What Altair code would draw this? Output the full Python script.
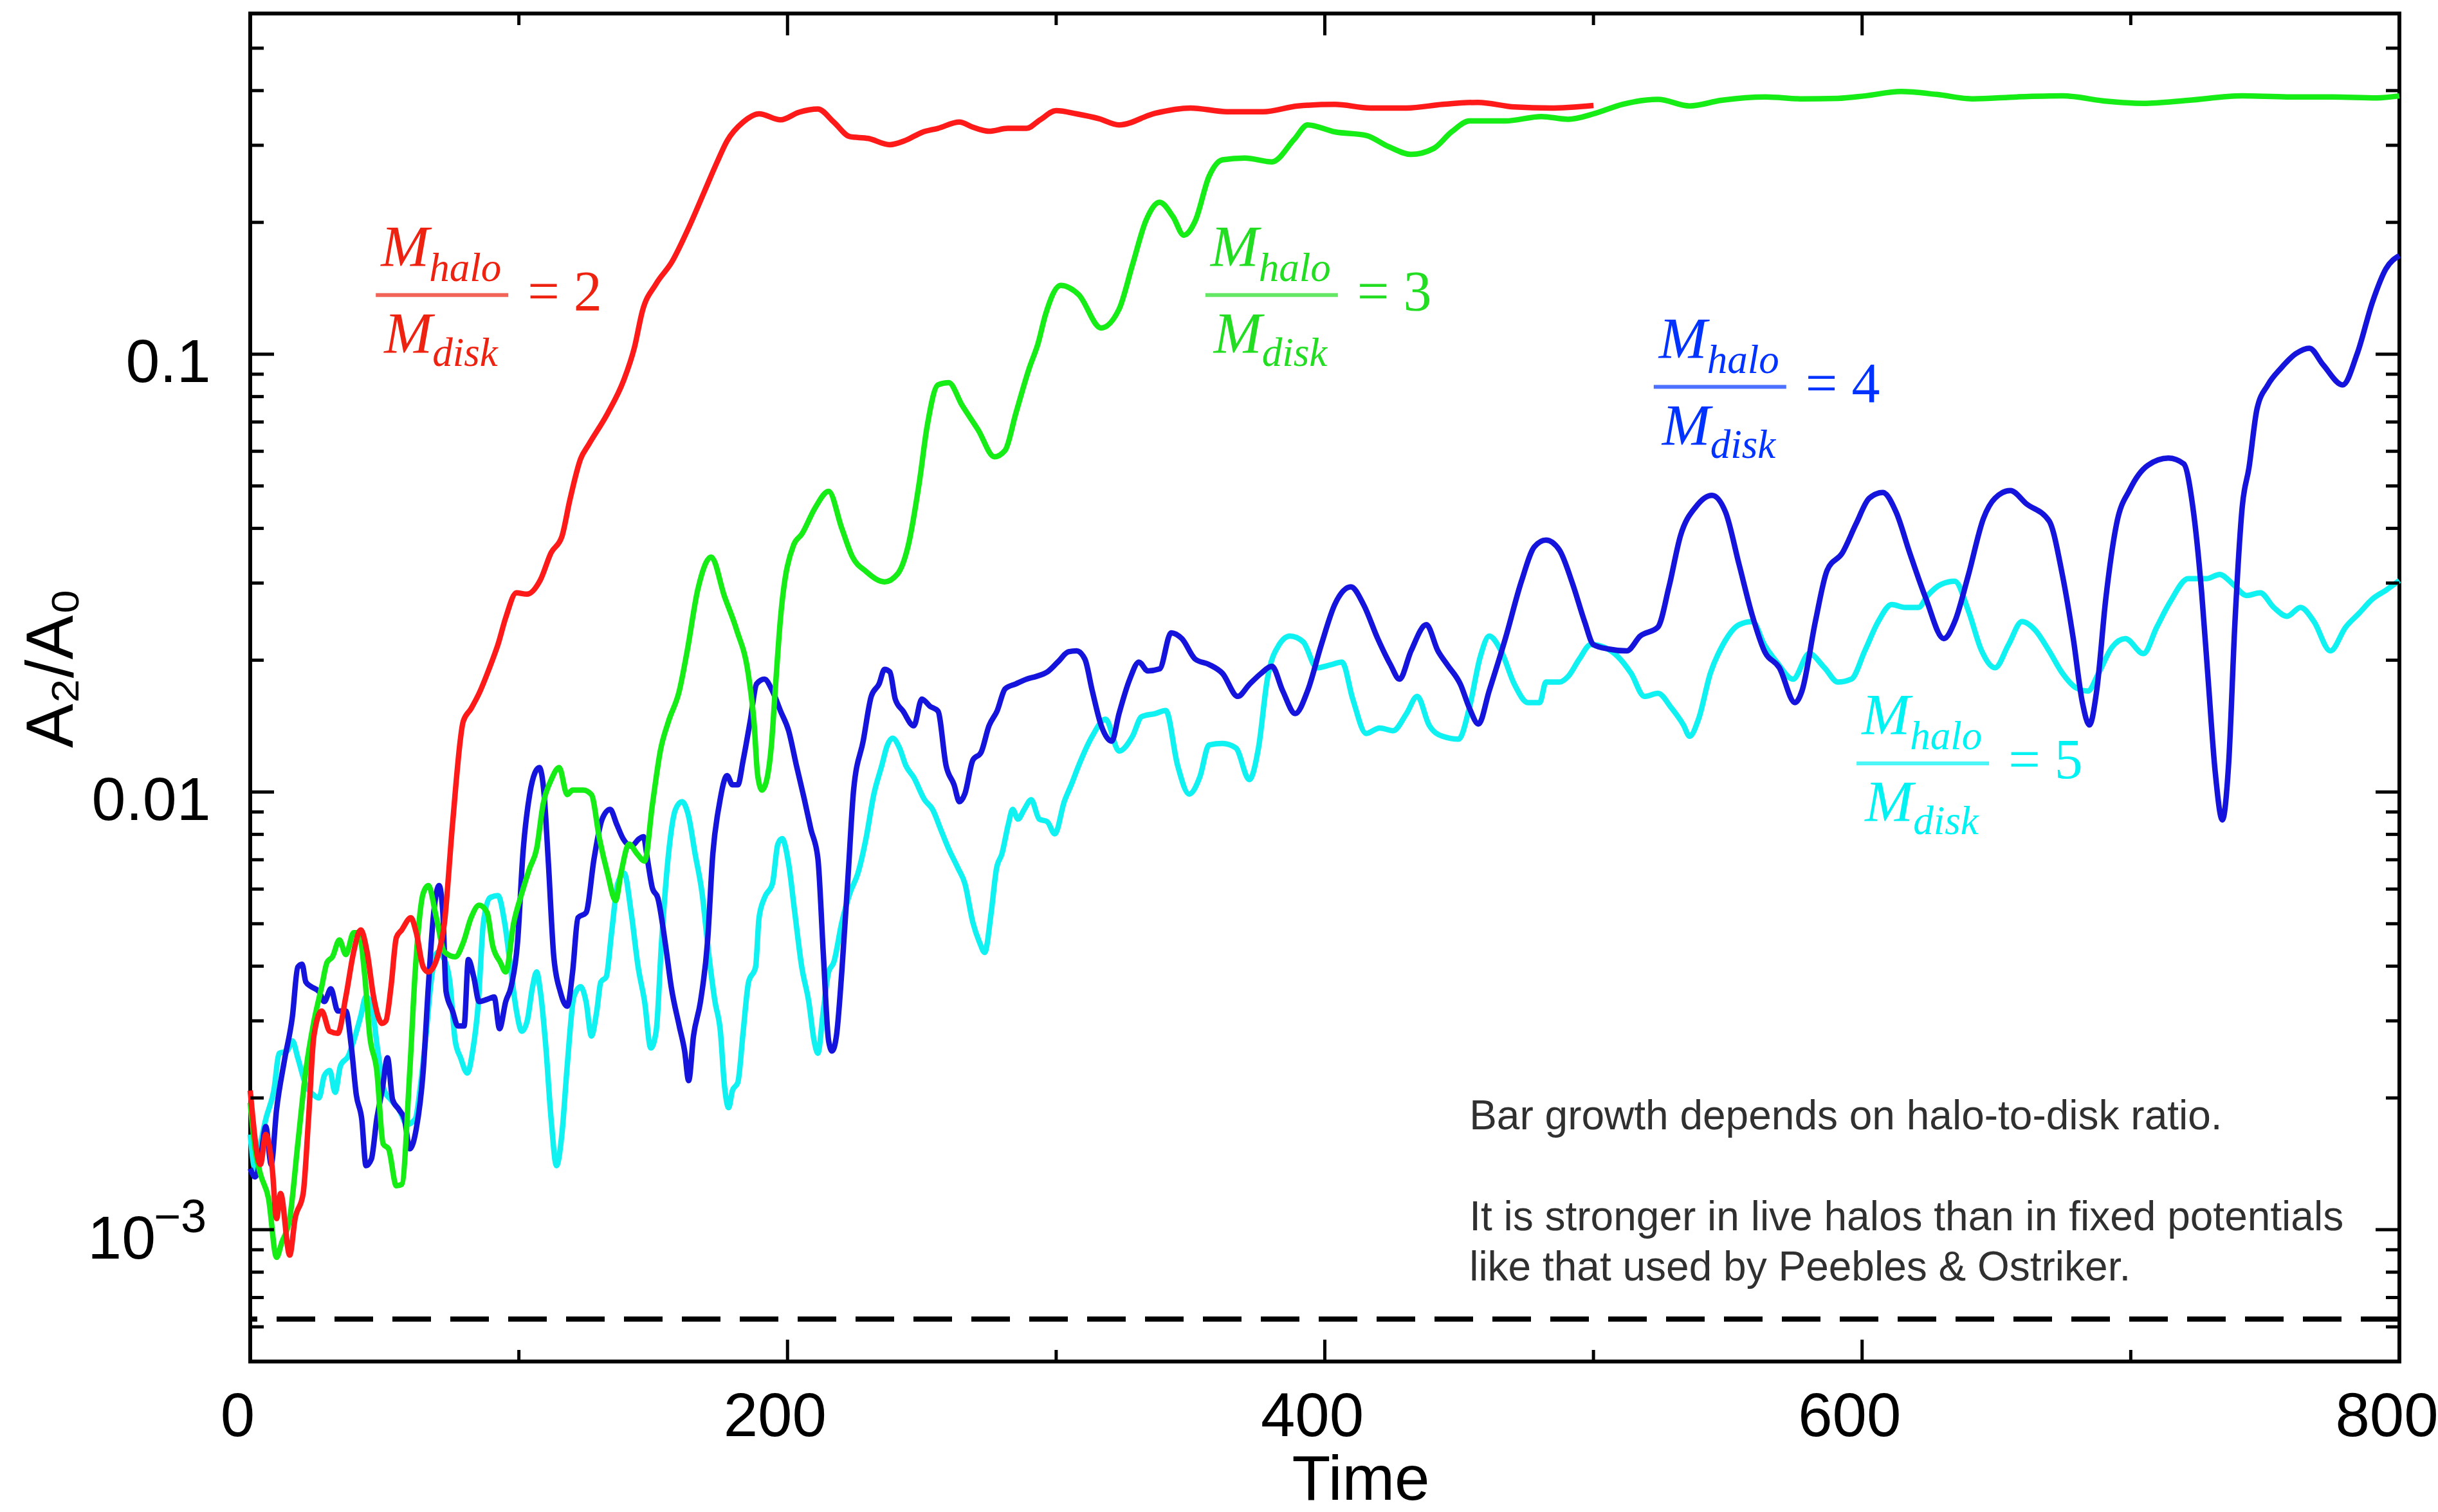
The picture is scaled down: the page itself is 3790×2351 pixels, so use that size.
import altair as alt
import pandas as pd

# ---------------------------------------------------------------
# Bar amplitude A2/A0 versus time for four halo-to-disk mass ratios
# ---------------------------------------------------------------

red_time = [0, 3.8, 5.8, 8.2, 9.8, 11.3, 14.7, 16.7, 19.7, 21.7, 23.7, 26.6, 29.6, 32.6,
            35.6, 38.5, 41.1, 43.5, 45.9, 49.1, 50.5, 52.4, 54.4, 56.4, 59.8, 61.8, 64.4,
            66.3, 69.7, 72.3, 75.3, 79.3, 82.2, 85.2, 89.6, 92.2, 95.1, 99.1, 103, 108,
            112, 116, 119, 123, 126, 133, 139, 143, 146, 151, 157, 163, 169, 173.6, 177.5,
            183.5, 189.4, 197.4, 204.3, 211.3, 217.2, 223.2, 230.1, 238, 244, 250, 256,
            264, 269, 275, 282, 289, 294, 300, 307.6, 316, 323.4, 336.8, 350, 363.6, 377,
            390, 403.7, 417, 430.4, 443.8, 457, 470.6, 484, 500]
red_amp = [0.00208, 0.00141, 0.00165, 0.00138, 0.00106, 0.00121, 0.000875, 0.00106,
           0.00121, 0.00179, 0.00277, 0.00316, 0.00284, 0.00281, 0.00341, 0.00431, 0.00484,
           0.00431, 0.00341, 0.00296, 0.00300, 0.00359, 0.00465, 0.00484, 0.00516, 0.00477,
           0.00398, 0.00388, 0.00420, 0.00503, 0.00844, 0.0145, 0.0155, 0.0168, 0.0196,
           0.0217, 0.0250, 0.0285, 0.0283, 0.0305, 0.0352, 0.0383, 0.0465, 0.0577, 0.0622,
           0.0732, 0.0871, 0.1035, 0.1256, 0.1445, 0.1626, 0.1932, 0.2348, 0.273, 0.307,
           0.339, 0.354, 0.343, 0.357, 0.363, 0.339, 0.314, 0.311, 0.301, 0.308, 0.321,
           0.328, 0.339, 0.330, 0.323, 0.328, 0.328, 0.343, 0.360, 0.354, 0.345, 0.334,
           0.355, 0.365, 0.358, 0.358, 0.369, 0.372, 0.365, 0.365, 0.372, 0.376, 0.367,
           0.365, 0.370]

green_time = [0, 1.8, 3.8, 6.8, 9.8, 11.7, 14.7, 17.7, 20.7, 23.7, 26.6, 28.6, 30.6, 33.2,
              35.6, 38.5, 40.5, 42.5, 44.5, 47.1, 49.5, 51.5, 54.4, 56.4, 59.4, 61.4, 64.4,
              66.3, 69.3, 72.3, 76.3, 79.3, 82.2, 85.2, 88.2, 90.2, 93.1, 95.1, 98.1, 101.1,
              104, 106.6, 109, 112, 115, 118, 120, 124, 127, 130, 133, 136, 138, 141, 144,
              146.8, 149.7, 152.7, 155.7, 159.7, 162.6, 166.6, 171.6, 176.5, 181, 185.5,
              187.5, 188.9, 190.5, 192, 194, 195.4, 197.4, 202.3, 205.3, 210.3, 215.3,
              220.2, 224.2, 229.2, 236.1, 241, 245, 249, 252, 256, 260, 265, 271, 277, 281,
              285, 290, 293.3, 296, 301.7, 308.4, 316.7, 323.4, 328.4, 333.4, 338.5, 343.5,
              347.5, 351.8, 356.9, 361.9, 370.2, 380.3, 388.6, 393.6, 403.7, 415.4, 423.7,
              432.1, 440.5, 447.2, 453.9, 467.2, 480.6, 490.6, 500.7, 510.7, 524, 535.8,
              547.5, 564.2, 577.6, 591, 601, 614.4, 627.8, 641, 657.9, 674.6, 691.3, 704.7,
              721.4, 741.5, 758.2, 775, 791.6, 800]
green_amp = [0.00195, 0.00153, 0.00134, 0.00118, 0.000865, 0.000934, 0.00106, 0.00157,
             0.00231, 0.00299, 0.00359, 0.00408, 0.00420, 0.00459, 0.00425, 0.00477,
             0.00477, 0.00388, 0.00277, 0.00231, 0.00157, 0.00153, 0.00126, 0.00127,
             0.00231, 0.00388, 0.00587, 0.00611, 0.00516, 0.00431, 0.00420, 0.00453,
             0.00516, 0.00551, 0.00530, 0.00447, 0.00408, 0.00388, 0.00503, 0.00587,
             0.00669, 0.00741, 0.00936, 0.01065, 0.01137, 0.00986, 0.0101, 0.0101, 0.00986,
             0.00782, 0.00652, 0.00565, 0.00652, 0.00760, 0.00722, 0.00695, 0.00936,
             0.01245, 0.0145, 0.0170, 0.0209, 0.0290, 0.0344, 0.0280, 0.0235, 0.0184,
             0.0145, 0.0109, 0.0101, 0.0105, 0.0128, 0.0170, 0.0250, 0.0367, 0.0388,
             0.0446, 0.0486, 0.0400, 0.0344, 0.0319, 0.0302, 0.0315, 0.0367, 0.0507,
             0.0686, 0.0851, 0.0861, 0.0764, 0.0671, 0.0583, 0.0603, 0.0733, 0.0930, 0.106,
             0.123, 0.1436, 0.1367, 0.1148, 0.1267, 0.160, 0.2018, 0.2223, 0.206, 0.187,
             0.2018, 0.2547, 0.278, 0.2805, 0.275, 0.3096, 0.334, 0.322, 0.316, 0.298,
             0.286, 0.295, 0.322, 0.341, 0.341, 0.349, 0.344, 0.355, 0.372, 0.382, 0.369,
             0.380, 0.387, 0.383, 0.384, 0.389, 0.398, 0.392, 0.383, 0.387, 0.389, 0.378,
             0.374, 0.380, 0.389, 0.387, 0.387, 0.385, 0.389]

blue_time = [0, 1.8, 3.8, 5.8, 7.8, 9.8, 12.7, 15.7, 17.7, 19.3, 20.7, 22.7, 25.6, 27.6,
             30, 32.6, 35.6, 37.6, 39.5, 41.5, 43.1, 45.1, 47.1, 49.1, 51.1, 53, 55.4,
             57.4, 59.4, 61.8, 64.4, 66.3, 68.3, 70.3, 71.7, 72.9, 75.3, 77.3, 79.6, 81.2,
             83.2, 85.2, 88.2, 90.8, 92.8, 95.1, 97.1, 99.5, 101.5, 104, 106, 107.6, 109.4,
             111, 113, 115.4, 118, 120, 122, 125, 128, 131, 134, 136.4, 138.8, 141.8,
             144.8, 146.4, 147.8, 149.7, 151.7, 154.7, 156.7, 159.7, 161.7, 163.2, 165,
             167.6, 170.2, 172.2, 174.6, 177.5, 179.5, 181.5, 183.5, 186.1, 188.5, 191.4,
             194.4, 197.4, 200.4, 203.3, 206.3, 208.7, 211.3, 213.3, 215.3, 216.6, 218.2,
             220.2, 222.6, 224.6, 228.2, 231.2, 234.1, 236.1, 238.1, 240.1, 243, 247, 250,
             253, 256, 259, 262, 264, 266, 269, 272, 275, 278, 281, 285, 289, 292.7, 296.7,
             300.6, 304.6, 307.6, 310.7, 313.4, 316.7, 320.7, 323.4, 327.4, 330.8, 334.1,
             338.5, 342.8, 346.8, 351.8, 356.9, 361.9, 367.6, 371.9, 376.3, 380.3, 384.3,
             389, 393.6, 398.7, 403.7, 409.7, 414.4, 419.7, 424.4, 427.8, 432.1, 437.8,
             442.1, 445.5, 450.5, 453.8, 457.2, 461.2, 467.2, 473.2, 478, 482.3, 487.3,
             492.3, 496.7, 500, 505.7, 512.4, 517.4, 524, 528.1, 532.4, 538.1, 544.1,
             549.2, 554.2, 559.2, 563.6, 569.2, 575, 577.6, 582.6, 587, 592.7, 597.7,
             602.7, 607.7, 612.7, 617.7, 623.8, 630.4, 634.5, 639.5, 645.2, 649.5, 655.2,
             661.2, 669.6, 674.6, 678.6, 682, 684.6, 687.3, 690.7, 694.7, 699.7, 706.3, 714,
             719.7, 723.1, 726.4, 728.8, 731.4, 734.1, 736.4, 738.8, 741.5, 744, 747, 751,
             756, 761.5, 766.5, 771.6, 778.9, 784.3, 790, 795, 800]
blue_amp = [0.00138, 0.00132, 0.00145, 0.00172, 0.00141, 0.00188, 0.00243, 0.00307, 0.00398,
            0.00404, 0.00368, 0.00359, 0.00350, 0.00332, 0.00355, 0.00316, 0.00316, 0.00263,
            0.00203, 0.00179, 0.00140, 0.00145, 0.00179, 0.00208, 0.00247, 0.00198, 0.00188,
            0.00179, 0.00153, 0.00170, 0.00231, 0.00359, 0.00530, 0.00611, 0.00530, 0.00350,
            0.00316, 0.00292, 0.00292, 0.00414, 0.00378, 0.00332, 0.00336, 0.00340, 0.00288,
            0.00332, 0.00359, 0.00453, 0.00722, 0.00986, 0.01107, 0.01137, 0.00986, 0.00686,
            0.00420, 0.00350, 0.00324, 0.00388, 0.00516, 0.00530, 0.00705, 0.00867, 0.00912,
            0.00844, 0.00782, 0.00752, 0.00782, 0.00790, 0.00705, 0.00603, 0.00573, 0.00442,
            0.00359, 0.00292, 0.00256, 0.00219, 0.00277, 0.00332, 0.00453, 0.00722, 0.00936,
            0.0109, 0.01038, 0.01038, 0.01183, 0.0145, 0.01766, 0.0181, 0.0170, 0.0153,
            0.0138, 0.0115, 0.0096, 0.00822, 0.00705, 0.0043, 0.0027, 0.00256, 0.00277,
            0.00388, 0.00652, 0.0101, 0.0131, 0.01656, 0.01766, 0.01906, 0.0188, 0.0163,
            0.0153, 0.01416, 0.0163, 0.0157, 0.0153, 0.0115, 0.01038, 0.0095, 0.0099,
            0.01183, 0.0123, 0.01416, 0.0153, 0.0172, 0.01766, 0.0181, 0.01837, 0.0188,
            0.0198, 0.0209, 0.0210, 0.0201, 0.01706, 0.01422, 0.01306, 0.0151, 0.0181,
            0.0198, 0.0189, 0.0191, 0.0231, 0.0224, 0.0201, 0.01955, 0.01866, 0.01653,
            0.0176, 0.01866, 0.01936, 0.01703, 0.0151, 0.01703, 0.0217, 0.0268, 0.0294,
            0.0268, 0.0224, 0.01955, 0.0181, 0.0210, 0.0241, 0.0210, 0.01955, 0.0176,
            0.01556, 0.01429, 0.01703, 0.0224, 0.0303, 0.0363, 0.0376, 0.0357, 0.0298,
            0.0245, 0.0217, 0.0212, 0.0210, 0.0227, 0.0238, 0.0294, 0.0385, 0.0448, 0.0476,
            0.0435, 0.0331, 0.0252, 0.0210, 0.01922, 0.0160, 0.0170, 0.0245, 0.0321, 0.0352,
            0.0409, 0.0469, 0.0483, 0.0435, 0.0352, 0.0276, 0.0224, 0.0245, 0.0312, 0.0422,
            0.0469, 0.0488, 0.0455, 0.0416, 0.0312, 0.0224, 0.0160, 0.01422, 0.0170, 0.0276,
            0.0409, 0.0491, 0.0557, 0.0579, 0.0562, 0.0448, 0.0285, 0.0181, 0.01117,
            0.00863, 0.0115, 0.0245, 0.0448, 0.055, 0.075, 0.085, 0.093, 0.1003, 0.1032,
            0.0946, 0.0851, 0.1003, 0.1317, 0.1567, 0.168]

cyan_time = [0, 1.8, 3.8, 5.8, 8.8, 10.8, 13.7, 15.7, 17.7, 20.7, 23.7, 25.6, 27.6, 29.6,
             31.6, 33.6, 36.6, 38.5, 41.1, 43.1, 45.5, 47.5, 49.9, 52.4, 55.4, 58.4, 61.4,
             63.4, 65.4, 67.3, 69.7, 72.3, 74.3, 76.3, 78.3, 80.8, 82.8, 84.8, 86.8, 89.2,
             92.2, 94.7, 97.1, 99.1, 101.1, 103.1, 105.1, 106.6, 108, 110, 112, 114, 116,
             118, 120.5, 123, 125, 127, 129, 130.5, 132.5, 134.5, 136.8, 139.2, 141.8,
             144.4, 146.8, 149.1, 151.1, 153.1, 155.7, 158.3, 160.7, 163, 165.6, 168.2,
             170.6, 173, 175, 176.5, 178.1, 179.5, 181.5, 183.5, 185.5, 188.1, 189.4, 191.4,
             194.4, 196.4, 198, 200.4, 202.7, 205.3, 207.9, 209.9, 211.3, 213.3, 215.3,
             217.2, 220.2, 223.2, 226.2, 229.2, 232.1, 235.1, 237.1, 239.1, 241.7, 244, 247,
             251, 254, 257, 260, 263.5, 266, 269, 271.5, 273.4, 275.8, 277.8, 279.8, 282.2,
             283.8, 285.8, 288.1, 290.7, 293.7, 296.7, 299.5, 303, 305.6, 308.4, 313.4,
             318.4, 323.4, 328.4, 331.8, 336.8, 340.8, 345.2, 349.5, 353.5, 356.9, 361.9,
             366.9, 371.9, 375.3, 378.6, 383, 387, 392, 397, 402, 406.4, 410.4, 415.4, 420.4,
             425.4, 430.4, 434.4, 438.8, 443.8, 449.8, 453.8, 457.9, 461.2, 465.6, 470.6,
             475.6, 480, 482.3, 487.3, 490.6, 494.7, 499, 504, 509, 514, 519, 524, 529,
             533.5, 535.8, 539.1, 543.5, 548.2, 554.2, 559.2, 563.6, 568.2, 574.3, 580.3,
             586, 591, 596, 601, 606, 611, 616, 621, 624.4, 629.4, 634.5, 639.5, 644.5,
             649.5, 654.5, 659.5, 664.5, 669.6, 674.6, 679.6, 684, 688, 693, 698, 704.7,
             709.7, 714.7, 721.4, 728.1, 733.1, 738.1, 743.1, 748.2, 753.2, 758.2, 763.2,
             768.2, 774.3, 780, 785, 790, 795, 800]
cyan_amp = [0.00165, 0.00138, 0.00157, 0.00179, 0.00208, 0.00253, 0.00256, 0.00270, 0.00247,
            0.00214, 0.00203, 0.00200, 0.00225, 0.00231, 0.00206, 0.00237, 0.00250, 0.00270,
            0.00307, 0.00341, 0.00316, 0.00256, 0.00208, 0.00198, 0.00188, 0.00174, 0.00179,
            0.00214, 0.00277, 0.00368, 0.00430, 0.00414, 0.00368, 0.00270, 0.00247, 0.00228,
            0.00256, 0.00324, 0.00503, 0.00573, 0.00580, 0.00503, 0.00388, 0.00316, 0.00284,
            0.00300, 0.00359, 0.00388, 0.00350, 0.00263, 0.00179, 0.00140, 0.00165, 0.00237,
            0.00341, 0.00359, 0.00332, 0.00277, 0.00316, 0.00368, 0.00378, 0.00477, 0.00618,
            0.00652, 0.00530, 0.00398, 0.00332, 0.00260, 0.00284, 0.00453, 0.00722, 0.00912,
            0.00950, 0.00889, 0.00722, 0.00587, 0.00430, 0.00332, 0.00284, 0.00214, 0.00190,
            0.00208, 0.00217, 0.00284, 0.00368, 0.00398, 0.00516, 0.00573, 0.00618, 0.00760,
            0.00782, 0.00686, 0.00530, 0.00398, 0.00332, 0.00270, 0.00253, 0.00316, 0.00388,
            0.00408, 0.00503, 0.00587, 0.00652, 0.00782, 0.00986, 0.0115, 0.01276, 0.01327,
            0.0126, 0.0115, 0.01079, 0.0096, 0.00912, 0.00822, 0.00741, 0.00669, 0.00618,
            0.00503, 0.00453, 0.00430, 0.00530, 0.00669, 0.00722, 0.00844, 0.00912, 0.00867,
            0.00912, 0.0096, 0.00867, 0.00855, 0.00802, 0.0095, 0.01038, 0.0115, 0.0134,
            0.01466, 0.0124, 0.0134, 0.01486, 0.0151, 0.01535, 0.0115, 0.00989, 0.01083,
            0.0128, 0.0129, 0.0126, 0.01067, 0.0126, 0.0181, 0.0217, 0.0227, 0.0220, 0.01922,
            0.0195, 0.0198, 0.0163, 0.0136, 0.0140, 0.0138, 0.0151, 0.01653, 0.01422, 0.0134,
            0.0132, 0.01556, 0.0204, 0.0227, 0.0210, 0.0176, 0.0160, 0.0160, 0.01782,
            0.01782, 0.01837, 0.0201, 0.0217, 0.0214, 0.0204, 0.01866, 0.01653, 0.0168,
            0.01556, 0.01422, 0.0134, 0.01466, 0.01866, 0.0217, 0.0241, 0.0245, 0.0217,
            0.0198, 0.0181, 0.0207, 0.01922, 0.01782, 0.0181, 0.0210, 0.0245, 0.0268, 0.0264,
            0.0264, 0.0281, 0.0298, 0.0303, 0.0260, 0.0210, 0.01922, 0.0217, 0.0245, 0.0234,
            0.0210, 0.01866, 0.0173, 0.0170, 0.01866, 0.0214, 0.0224, 0.0207, 0.0238, 0.0272,
            0.0307, 0.0307, 0.0314, 0.0298, 0.0281, 0.0285, 0.0264, 0.0252, 0.0264, 0.0245,
            0.0210, 0.0238, 0.0256, 0.0276, 0.0289, 0.0304]

# reference level drawn as the dashed line
noise_floor = 6.25e-4

# axis tick values
x_major = [200, 400, 600]
x_minor = [100, 300, 500, 700]
x_labels = [0, 200, 400, 600, 800]
y_major = [0.1, 0.01, 0.001]
y_minor = [0.0005, 0.0006, 0.0007, 0.0008, 0.0009,
           0.002, 0.003, 0.004, 0.005, 0.006, 0.007, 0.008, 0.009,
           0.02, 0.03, 0.04, 0.05, 0.06, 0.07, 0.08, 0.09,
           0.2, 0.3, 0.4, 0.5, 0.6]

# curve labels: mass ratio and the point where each fraction bar sits
label_ratio = ["2", "3", "4", "5"]
label_time = [71.4, 380.2, 547.1, 622.6]
label_amp = [0.1365, 0.1365, 0.0842, 0.01162]

note_head = "Bar growth depends on halo-to-disk ratio."
note_body = ["It is stronger in live halos than in fixed potentials",
             "like that used by Peebles & Ostriker."]
note_time = [453.8, 453.8]
note_amp = [0.001695, 0.000997]

# ---------------------------------------------------------------
W, H = 3341, 2096
SANS = "Liberation Sans"
SERIF = "Liberation Serif"

line_color = {"2": "#ff1a1a", "3": "#16ec16", "4": "#1414dc", "5": "#10f2f2"}
text_color = {"2": "#ee2211", "3": "#22dd22", "4": "#0033ff", "5": "#00f2f2"}

xs = alt.Scale(domain=[0, 800], nice=False, zero=False)
ys = alt.Scale(type="log", domain=[5e-4, 0.6], nice=False)

x_axis = alt.Axis(
    values=x_labels, format="d", grid=False, domain=False, ticks=False, tickSize=0,
    labelFont=SANS, labelFontSize=96, labelColor="black", labelPadding=115,
    labelBaseline="alphabetic", labelOffset=-20, labelFlush=False,
    labelOverlap=False, labelBound=False, labelLimit=0,
    title="Time", titleFont=SANS, titleFontSize=98, titleFontWeight="normal",
    titleColor="black", titleX=1726, titleY=214, titleAlign="center",
    titleBaseline="alphabetic",
)
y_axis = alt.Axis(
    values=y_major, grid=False, domain=False, ticks=False, tickSize=0,
    labelExpr="datum.value > 0.05 ? '0.1' : (datum.value > 0.005 ? '0.01' : '')",
    labelFont=SANS, labelFontSize=95, labelColor="black", labelPadding=62,
    labelAlign="right", labelBaseline="alphabetic", labelOffset=43,
    labelOverlap=False, labelBound=False, labelLimit=0,
    title="A₂/A₀", titleFont=SANS, titleFontSize=103, titleFontWeight="normal",
    titleColor="black", titleX=-277, titleY=1017, titleAngle=270,
    titleAlign="center", titleBaseline="alphabetic", titleLimit=0,
)


def X(field):
    return alt.X(field, scale=xs, axis=x_axis)


def Y(field):
    return alt.Y(field, scale=ys, axis=y_axis)


series = {"2": (red_time, red_amp), "3": (green_time, green_amp),
          "4": (blue_time, blue_amp), "5": (cyan_time, cyan_amp)}

layers = []

# curves, drawn from the highest ratio up so the red one sits on top
for key in ["5", "4", "3", "2"]:
    t, a = series[key]
    df = pd.DataFrame({"time": t, "amp": a})
    layers.append(
        alt.Chart(df).mark_line(color=line_color[key], strokeWidth=8.5,
                                interpolate="monotone", strokeJoin="round")
        .encode(x=X("time:Q"), y=Y("amp:Q"))
    )

# dashed reference level
layers.append(
    alt.Chart(pd.DataFrame({"amp": [noise_floor]}))
    .mark_rule(color="black", strokeWidth=8, strokeDash=[60, 30])
    .encode(y=Y("amp:Q"))
)


# inward ticks on all four sides
def y_ticks(vals, length):
    base = alt.Chart(pd.DataFrame({"amp": vals})).mark_rule(color="black", strokeWidth=5)
    return [base.encode(y=Y("amp:Q"), x=alt.value(0), x2=alt.value(length)),
            base.encode(y=Y("amp:Q"), x=alt.value(W - length), x2=alt.value(W))]


def x_ticks(vals, length):
    base = alt.Chart(pd.DataFrame({"time": vals})).mark_rule(color="black", strokeWidth=5)
    return [base.encode(x=X("time:Q"), y=alt.value(H), y2=alt.value(H - length)),
            base.encode(x=X("time:Q"), y=alt.value(0), y2=alt.value(length))]


layers += y_ticks(y_major, 37) + y_ticks(y_minor, 21)
layers += x_ticks(x_major, 34) + x_ticks(x_minor, 18)

# "10^-3" label drawn by hand so the exponent can be raised
exp_df = pd.DataFrame({"amp": [0.001]})
layers.append(
    alt.Chart(exp_df).mark_text(text="10", font=SANS, fontSize=95, color="black",
                                align="right", baseline="alphabetic", dy=45)
    .encode(y=Y("amp:Q"), x=alt.value(-147))
)
layers.append(
    alt.Chart(exp_df).mark_text(text="−3", font=SANS, fontSize=72, color="black",
                                align="left", baseline="alphabetic", dy=4)
    .encode(y=Y("amp:Q"), x=alt.value(-150))
)

# M_halo / M_disk = N labels
lab_df = pd.DataFrame({"run": label_ratio, "time": label_time, "amp": label_amp})
lab_color = alt.Color("run:N", legend=None,
                      scale=alt.Scale(domain=list(text_color.keys()),
                                      range=list(text_color.values())))
lab_base = alt.Chart(lab_df).encode(x=X("time:Q"), y=Y("amp:Q"), color=lab_color)
ital = dict(font=SERIF, fontStyle="italic", align="left", baseline="alphabetic")
layers.append(lab_base.mark_text(text="M", fontSize=90, dx=-95, dy=-45, **ital))
layers.append(lab_base.mark_text(text="halo", fontSize=63, dx=-20, dy=-22, **ital))
layers.append(lab_base.mark_text(text="M", fontSize=90, dx=-90, dy=90, **ital))
layers.append(lab_base.mark_text(text="disk", fontSize=63, dx=-15, dy=110, **ital))
layers.append(lab_base.mark_tick(orient="horizontal", size=206, thickness=6))
layers.append(
    lab_base.transform_calculate(eq="'= ' + datum.run")
    .mark_text(font=SERIF, fontSize=88, align="left", baseline="alphabetic",
               dx=133, dy=23)
    .encode(text="eq:N")
)

# explanatory note: a heading line, then a separate two-line paragraph
note_df = pd.DataFrame({"time": note_time, "amp": note_amp,
                        "txt": [note_head, "\n".join(note_body)]})
layers.append(
    alt.Chart(note_df).mark_text(lineBreak="\n", lineHeight=78, font=SANS,
                                 fontSize=64, color="#303030", align="left",
                                 baseline="alphabetic")
    .encode(x=X("time:Q"), y=Y("amp:Q"), text="txt:N")
)

chart = (
    alt.layer(*layers)
    .properties(width=W, height=H,
                autosize=alt.AutoSizeParams(type="none"),
                padding={"left": 389, "top": 21, "right": 60, "bottom": 234},
                background="white")
    .configure_view(stroke="black", strokeWidth=6)
)

chart.save("out.html", embed_options={"renderer": "svg", "actions": False})
